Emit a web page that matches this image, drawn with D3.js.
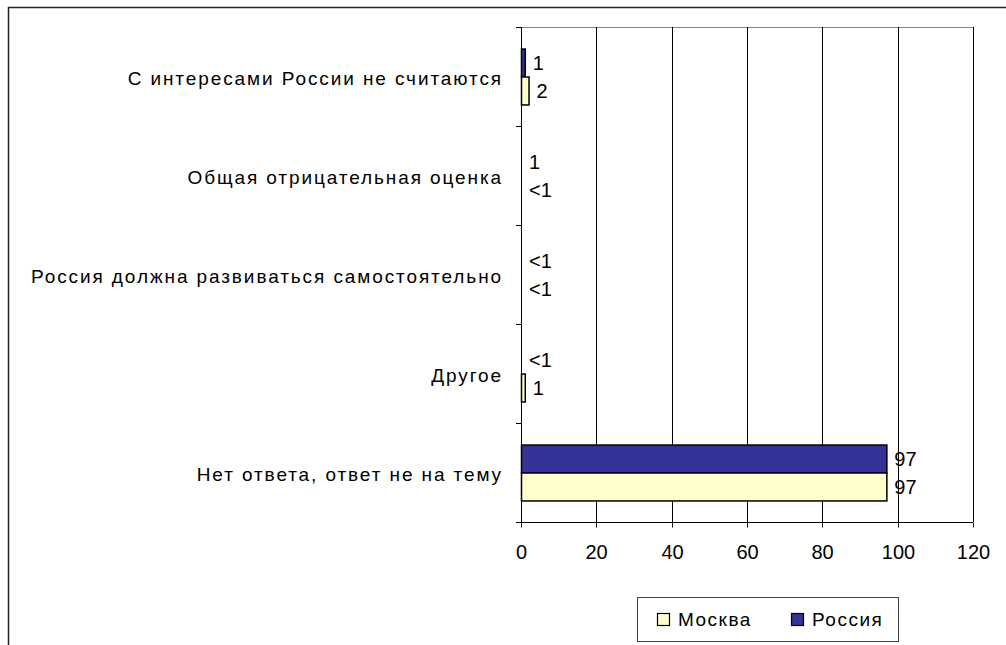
<!DOCTYPE html>
<html><head><meta charset="utf-8">
<script src="https://cdn.jsdelivr.net/npm/d3@7"></script>
<style>
html,body{margin:0;padding:0;background:#fff;}
svg{display:block;}
text{font-family:"Liberation Sans",Arial,sans-serif;fill:#000;}
</style></head>
<body>
<svg id="c" width="1006" height="645"></svg>
<script>
const categories = ["С интересами России не считаются","Общая отрицательная оценка","Россия должна развиваться самостоятельно","Другое","Нет ответа, ответ не на тему"];
const seriesNames = ["Россия","Москва"];
const russiaValues = [1, 0, 0, 0, 97];
const moscowValues = [2, 0, 0, 1, 97];
const russiaLabels = ["1","1","<1","<1","97"];
const moscowLabels = ["2","<1","<1","1","97"];
const xTicks = [0,20,40,60,80,100,120];
const legendOrder = ["Москва","Россия"];
const colors = {"Россия":"#333399","Москва":"#FFFFCC"};

const svg = d3.select("#c");
const L = 521, R = 973, T = 27, B = 522;
const x = d3.scaleLinear().domain([0,120]).range([L,R]);
const y = d3.scaleBand().domain(categories).range([T,B]);
const inner = d3.scaleBand().domain(seriesNames).range([0,y.bandwidth()]).paddingInner(0).paddingOuter(0.77);

// outer frame
svg.append("line").attr("x1",8).attr("x2",1006).attr("y1",7.5).attr("y2",7.5).attr("stroke","#222").attr("stroke-width",1.5);
svg.append("line").attr("x1",8.5).attr("x2",8.5).attr("y1",7).attr("y2",645).attr("stroke","#222").attr("stroke-width",1.5);

// plot top border
svg.append("line").attr("x1",L).attr("x2",R).attr("y1",T+0.5).attr("y2",T+0.5).attr("stroke","#888");

// gridlines
svg.append("g").selectAll("line").data(xTicks.slice(1)).join("line")
  .attr("x1",d=>Math.round(x(d))+0.5).attr("x2",d=>Math.round(x(d))+0.5)
  .attr("y1",T).attr("y2",B).attr("stroke","#000");

// x axis
const xa = svg.append("g").attr("transform",`translate(0,${B+0.5})`)
  .call(d3.axisBottom(x).tickValues(xTicks).tickSize(5).tickPadding(17).tickFormat(d3.format("d")));
xa.select(".domain").attr("stroke","#000").attr("d",`M${L-5},0H${R}`);
xa.selectAll(".tick line").attr("stroke","#000");
xa.selectAll(".tick text").style("font-size","20px").attr("font-family",null);
xa.selectAll(".tick").attr("transform",d=>`translate(${Math.round(x(d))+0.5},0)`);

// y axis
svg.append("line").attr("x1",L+0.5).attr("x2",L+0.5).attr("y1",T).attr("y2",B).attr("stroke","#000");
const bounds = categories.map(c=>y(c)).concat([B]);
svg.append("g").selectAll("line").data(bounds).join("line")
  .attr("x1",L-5).attr("x2",L).attr("y1",d=>Math.round(d)+0.5).attr("y2",d=>Math.round(d)+0.5).attr("stroke","#000");

// category labels
svg.append("g").selectAll("text").data(categories).join("text")
  .attr("x",L-18).attr("y",d=>y(d)+y.bandwidth()/2+2).attr("dy","0.35em")
  .attr("text-anchor","end").style("font-size","19px").style("letter-spacing","1.9px").text(d=>d);

// bars
const rows = [];
categories.forEach((c,i)=>{
  rows.push({c, s:"Россия", v:russiaValues[i], lab:russiaLabels[i]});
  rows.push({c, s:"Москва", v:moscowValues[i], lab:moscowLabels[i]});
});
svg.append("g").selectAll("rect").data(rows.filter(r=>r.v>0)).join("rect")
  .attr("x",L+0.5).attr("y",d=>y(d.c)+inner(d.s)+0.5)
  .attr("width",d=>x(d.v)-L).attr("height",inner.bandwidth())
  .attr("fill",d=>colors[d.s]).attr("stroke","#000").attr("stroke-width",1.5);

// data labels
svg.append("g").selectAll("text").data(rows).join("text")
  .attr("x",d=>x(d.v)+8).attr("y",d=>y(d.c)+inner(d.s)+inner.bandwidth()/2).attr("dy","0.36em")
  .style("font-size","20px").text(d=>d.lab);

// legend
const lg = svg.append("g");
lg.append("rect").attr("x",637.5).attr("y",597.5).attr("width",261).attr("height",44)
  .attr("fill","#fff").attr("stroke","#444").attr("stroke-width",1);
const lx = d3.scalePoint().domain(legendOrder).range([657,791]);
const items = lg.selectAll("g.item").data(legendOrder).join("g").attr("class","item")
  .attr("transform",d=>`translate(${lx(d)},613)`);
items.append("rect").attr("x",0.5).attr("y",0.5).attr("width",12).attr("height",12)
  .attr("fill",d=>colors[d]).attr("stroke","#000").attr("stroke-width",1.2);
items.append("text").attr("x",21).attr("y",6.5).attr("dy","0.36em").style("font-size","19px").style("letter-spacing","1.5px").text(d=>d);
</script>
</body></html>
